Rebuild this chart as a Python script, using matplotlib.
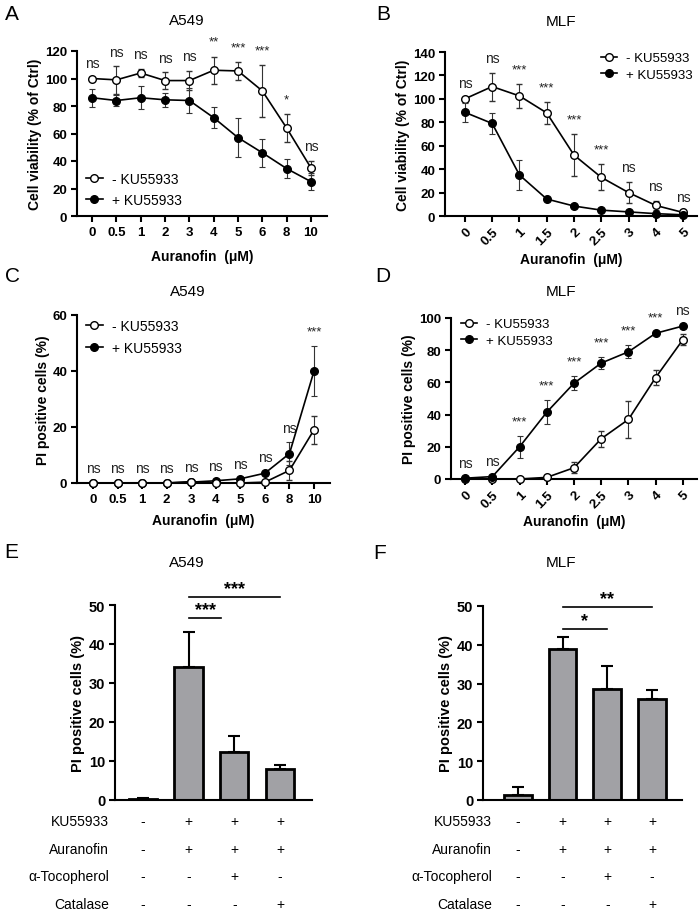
import matplotlib
matplotlib.use('Agg')
import matplotlib.pyplot as plt
import matplotlib.transforms as mtransforms
from matplotlib.lines import Line2D

plt.rcParams['font.family'] = ['Liberation Sans', 'DejaVu Sans']
plt.rcParams['axes.linewidth'] = 1.5

W, H = 700, 912

# ----------------------------------------------------------------------
# DADOS
# ----------------------------------------------------------------------
# A: viabilidade A549
doses_a = ['0', '0.5', '1', '2', '3', '4', '5', '6', '8', '10']
via_a_minus = [100, 99, 104, 98.5, 98.5, 106, 105.5, 91, 64, 35]
via_a_minus_err = [1, 10, 3, 6, 7, 10, 6.5, 19, 10, 5]
via_a_plus = [86, 84, 86, 84.5, 84, 71.5, 57, 46, 34.5, 25]
via_a_plus_err = [6.5, 4, 8.5, 5, 9, 7.5, 14, 10, 7, 6]
sig_a = ['ns', 'ns', 'ns', 'ns', 'ns', '**', '***', '***', '*', 'ns']

# B: viabilidade MLF
doses_b = ['0', '0.5', '1', '1.5', '2', '2.5', '3', '4', '5']
via_b_minus = [100, 110.5, 102.5, 88, 52, 33, 20, 9, 3]
via_b_minus_err = [1, 12, 10, 9.5, 18, 11, 9, 4, 1]
via_b_plus = [88.5, 79, 35, 14.5, 8.5, 5, 3.5, 2, 1]
via_b_plus_err = [8, 9, 12.5, 1, 1, 1, 1, 1, 1]
sig_b = ['ns', 'ns', '***', '***', '***', '***', 'ns', 'ns', 'ns']

# C: PI A549
pi_c_minus = [0, 0, 0, 0, 0.5, 0, 0, 0.3, 4.5, 19]
pi_c_minus_err = [0, 0, 0, 0, 0, 0, 0, 0, 3.5, 5]
pi_c_plus = [0, 0, 0, 0, 0.3, 0.8, 1.5, 3.5, 10.5, 40]
pi_c_plus_err = [0, 0, 0, 0, 0, 0, 0, 0.5, 4, 9]
sig_c = ['ns', 'ns', 'ns', 'ns', 'ns', 'ns', 'ns', 'ns', 'ns', '***']

# D: PI MLF
pi_d_minus = [0, 0, 0, 1, 7, 25, 37, 63, 86.5]
pi_d_minus_err = [0.5, 0.5, 0.5, 1, 3.5, 5, 11.5, 4.5, 3.5]
pi_d_plus = [0.5, 1.5, 20, 41.5, 59.5, 72, 79, 90.5, 95]
pi_d_plus_err = [0.5, 0.5, 7, 7.5, 4.5, 3.5, 4, 1, 1]
sig_d = ['ns', 'ns', '***', '***', '***', '***', '***', '***', 'ns']

# E / F: barras
bar_e = [0.3, 34, 12.3, 7.9]
bar_e_err = [0.3, 9.2, 4, 1.2]
bar_f = [1.3, 39, 28.7, 26]
bar_f_err = [2.1, 3, 5.8, 2.4]
brackets_e = [(1, 1.72, '***', 46.6), (1, 3, '***', 52)]
brackets_f = [(1, 2, '*', 44.1), (1, 3, '**', 49.7)]

row_labels = ['KU55933', 'Auranofin', 'α-Tocopherol', 'Catalase']
row_signs = [['-', '+', '+', '+'],
             ['-', '+', '+', '+'],
             ['-', '-', '+', '-'],
             ['-', '-', '-', '+']]

fig = plt.figure(figsize=(W / 100, H / 100), dpi=100)


def px_axes(l, t, r, b):
    return fig.add_axes([l / W, 1 - b / H, (r - l) / W, (b - t) / H])


def ftext(x, y, s, **kw):
    fig.text(x / W, 1 - y / H, s, **kw)


def style(ax):
    for s in ('top', 'right'):
        ax.spines[s].set_visible(False)
    ax.tick_params(width=1.5, length=4, labelsize=9.5, pad=3)
    for lab in ax.get_yticklabels() + ax.get_xticklabels():
        lab.set_fontweight('bold')


def line_panel(ax, doses, ym, em, yp, ep, sig, ylim, yticks, ylabel,
               rotate=False, plus_on_top=True, legend_at=None, lspacing=0.5,
               lsize=10):
    x = list(range(len(doses)))
    zm, zp = (3, 4) if plus_on_top else (4, 3)
    ax.errorbar(x, ym, yerr=em, color='black', lw=1.2, marker='o', ms=5.5,
                mfc='white', mec='black', mew=1.0, ecolor='#333333',
                elinewidth=0.8, capsize=2, capthick=0.8, zorder=zm,
                clip_on=False)
    ax.errorbar(x, yp, yerr=ep, color='black', lw=1.2, marker='o', ms=5.5,
                mfc='black', mec='black', ecolor='#333333',
                elinewidth=0.8, capsize=2, capthick=0.8, zorder=zp,
                clip_on=False)
    for i, s in enumerate(sig):
        top = max(ym[i] + em[i], yp[i] + ep[i])
        ax.annotate(s, (i, top), xytext=(0, 10.5), textcoords='offset points',
                    ha='center', va='center', fontsize=10 if s == 'ns' else 9.5,
                    color='#222222', annotation_clip=False)
    ax.set_ylim(*ylim)
    ax.set_yticks(yticks)
    ax.set_xticks(x)
    if rotate:
        ax.set_xticklabels(doses, rotation=45, ha='right',
                           rotation_mode='anchor')
    else:
        ax.set_xticklabels(doses)
    ax.set_ylabel(ylabel, fontsize=10, fontweight='bold', labelpad=2)
    style(ax)
    if legend_at is not None:
        handles = [Line2D([], [], color='black', lw=1.2, marker='o', ms=5.5,
                          mfc='white', mec='black'),
                   Line2D([], [], color='black', lw=1.2, marker='o', ms=5.5,
                          mfc='black', mec='black')]
        ax.legend(handles, ['- KU55933', '+ KU55933'], loc='upper left',
                  bbox_to_anchor=(legend_at[0] / W, 1 - legend_at[1] / H),
                  bbox_transform=fig.transFigure, frameon=False, fontsize=lsize,
                  handlelength=1.2, handletextpad=0.7, labelspacing=lspacing,
                  borderpad=0, borderaxespad=0)


# --- A ---
axA = px_axes(77, 52, 327, 217)
line_panel(axA, doses_a, via_a_minus, via_a_minus_err, via_a_plus, via_a_plus_err,
           sig_a, (0, 120), range(0, 121, 20), 'Cell viability (% of Ctrl)',
           plus_on_top=False, legend_at=(86, 173), lspacing=0.5)
axA.set_xlim(-0.62, 9.66)
axA.set_xlabel('Auranofin  (μM)', fontsize=10, fontweight='bold', va='center')
axA.xaxis.set_label_coords(0.5, -(257 - 217) / 165)

# --- B ---
axB = px_axes(445, 53, 697, 217)
line_panel(axB, doses_b, via_b_minus, via_b_minus_err, via_b_plus, via_b_plus_err,
           sig_b, (0, 140), range(0, 141, 20), 'Cell viability (% of Ctrl)',
           rotate=True, legend_at=(601, 53), lspacing=0.35, lsize=9.5)
axB.set_xlim(-0.73, 8.51)
axB.set_xlabel('Auranofin  (μM)', fontsize=10, fontweight='bold', va='center')
axB.xaxis.set_label_coords(0.5, -(260 - 217) / 164)

# --- C ---
axC = px_axes(77, 316, 330, 484)
line_panel(axC, doses_a, pi_c_minus, pi_c_minus_err, pi_c_plus, pi_c_plus_err,
           sig_c, (0, 60), range(0, 61, 20), 'PI positive cells (%)',
           plus_on_top=False, legend_at=(86, 320), lspacing=0.55)
axC.set_xlim(-0.65, 9.65)
axC.set_xlabel('Auranofin  (μM)', fontsize=10, fontweight='bold', va='center')
axC.xaxis.set_label_coords(0.5, -(521 - 484) / 168)

# --- D ---
axD = px_axes(451, 319, 697, 480)
line_panel(axD, doses_b, pi_d_minus, pi_d_minus_err, pi_d_plus, pi_d_plus_err,
           sig_d, (0, 100), range(0, 101, 20), 'PI positive cells (%)',
           rotate=True, legend_at=(461, 319), lspacing=0.35, lsize=9.5)
axD.set_xlim(-0.52, 8.52)
axD.set_xlabel('Auranofin  (μM)', fontsize=10, fontweight='bold', va='center')
axD.xaxis.set_label_coords(0.5, -(522 - 480) / 161)


# --- E / F ---
def bar_panel(ax, vals, errs, brackets, xlim, label_right):
    x = list(range(len(vals)))
    ax.bar(x, vals, width=0.62, color='#a1a1a5', edgecolor='black',
           linewidth=2.0, zorder=2)
    ax.errorbar(x, vals, yerr=[[0] * len(errs), errs], fmt='none',
                ecolor='black', elinewidth=1.5, capsize=4.5, capthick=1.5,
                zorder=1)
    for i, j, s, y in brackets:
        ax.plot([i, j], [y, y], color='black', lw=1.2, clip_on=False)
        ax.text((i + j) / 2, y, s, ha='center', va='bottom', fontsize=13,
                fontweight='bold')
    ax.set_ylim(0, 50)
    ax.set_yticks(range(0, 51, 10))
    ax.set_xlim(*xlim)
    ax.set_xticks([])
    ax.set_ylabel('PI positive cells (%)', fontsize=10.5, fontweight='bold',
                  labelpad=3)
    style(ax)
    ax.tick_params(labelsize=10.5)
    tr = mtransforms.blended_transform_factory(ax.transData, fig.transFigure)
    for k, (lab, signs) in enumerate(zip(row_labels, row_signs)):
        ypx = 822 + k * 27.7
        ftext(label_right, ypx, lab, ha='right', va='center', fontsize=10)
        for i, s in enumerate(signs):
            ax.text(i, 1 - ypx / H, s, transform=tr, ha='center', va='center',
                    fontsize=10)


axE = px_axes(115, 606, 312, 801)
bar_panel(axE, bar_e, bar_e_err, brackets_e, (-0.61, 3.7), 109)
axF = px_axes(483, 607, 682, 801)
bar_panel(axF, bar_f, bar_f_err, brackets_f, (-0.78, 3.67), 492)

# titulos e letras
for x, y, s in [(187, 21, 'A549'), (561, 22, 'MLF'), (188, 292, 'A549'),
                (561, 292, 'MLF'), (187, 563, 'A549'), (561, 563, 'MLF')]:
    ftext(x, y, s, ha='center', va='center', fontsize=11)
for x, y, s in [(12, 14, 'A'), (383, 14, 'B'), (12, 277, 'C'),
                (383, 277, 'D'), (11, 553, 'E'), (380, 554, 'F')]:
    ftext(x, y, s, ha='center', va='center', fontsize=15)

fig.savefig('out.png', dpi=100)
